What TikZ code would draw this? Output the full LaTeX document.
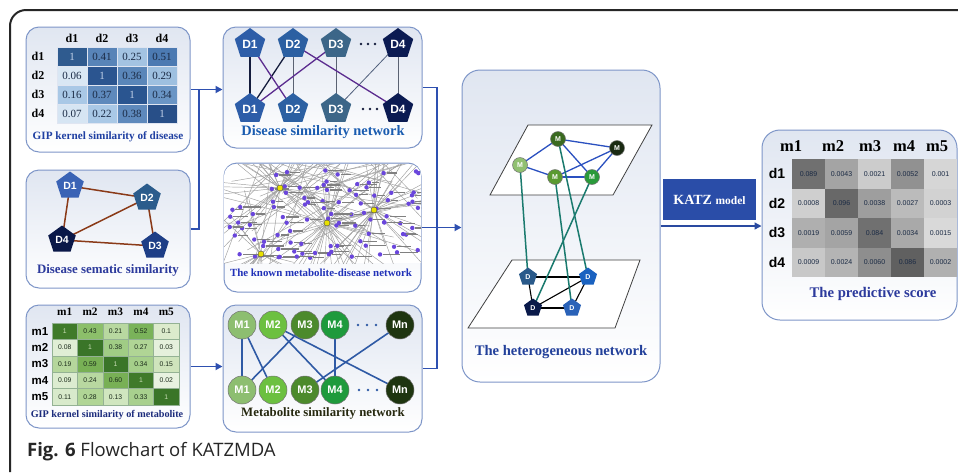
\documentclass[tikz,border=0pt]{standalone}
\usepackage{fontspec}
\setmainfont{Liberation Serif}
\newfontfamily\sansfont{Liberation Sans}
\newfontfamily\captionfont{Open Sans}
\usetikzlibrary{shapes.geometric,arrows.meta,calc}
\pgfdeclarelayer{front}
\pgfsetlayers{main,front}

\newcommand\fsz[1]{\fontsize{#1}{#1}\selectfont}

\definecolor{framec}{HTML}{7E96C8}
\definecolor{paneltop}{HTML}{E0E6F1}
\definecolor{flowc}{HTML}{2E50B0}
\definecolor{arrowdark}{HTML}{2A4AA0}
\definecolor{titleblue}{HTML}{1F3FA2}
\definecolor{titleviolet}{HTML}{2C3A9C}
\definecolor{titlenavy}{HTML}{1C2C7C}
\definecolor{titleknown}{HTML}{2030B8}
\definecolor{titleolive}{HTML}{26280F}
\definecolor{edgebrown}{HTML}{8A3A18}
\definecolor{edgepurple}{HTML}{5B2C8F}
\definecolor{edgenavy}{HTML}{141C3C}
\definecolor{edgegray}{HTML}{5A6272}
\definecolor{edgesteel}{HTML}{2F5AA5}
\definecolor{edgeblue}{HTML}{2A50C0}
\definecolor{edgeteal}{HTML}{1A7A6E}
\definecolor{katzblue}{HTML}{2A4DA8}
\definecolor{celltxt}{HTML}{1A2A44}
\definecolor{netdotc}{HTML}{6A46DC}
\definecolor{hubc}{HTML}{E8E000}

\begin{document}
\begin{tikzpicture}[x=1pt,y=-1pt,
  panel/.style={draw=framec, line width=1pt, rounded corners=13pt,
    top color=paneltop, bottom color=white, inner sep=0pt},
  flow/.style={draw=flowc, line width=1.8pt},
  tip/.style={-{Triangle[length=7pt,width=7pt]}},
  pent/.style={regular polygon, regular polygon sides=5, inner sep=0pt,
    minimum size=#1, text=white, font=\sansfont\bfseries},
  mball/.style={circle, inner sep=0pt, minimum size=#1, draw=black!55,
    line width=0.5pt, text=white, font=\sansfont\bfseries},
  ptitle/.style={font=\bfseries, inner sep=0pt},
  netline/.style={draw=gray!75, line width=0.45pt},
  netlabel/.style={fill=black!50},
  plane/.style={draw=black!75, line width=0.8pt, fill=white},
]
\useasboundingbox (0,0) rectangle (958,472);
\fill[white] (0,0) rectangle (958,472);

% figure frame
\draw[black!85, line width=2pt, rounded corners=16pt] (10,472) -- (10,10) -- (958,10);

% ---------------- panels ----------------
\node[panel, minimum width=164, minimum height=125] (gd) at (108,89.5) {};
\node[panel, minimum width=164, minimum height=118] (sem) at (108,229) {};
\node[panel, minimum width=164, minimum height=123] (gm) at (108,366.5) {};
\node[panel, minimum width=199, minimum height=121] (dsn) at (322.5,87.5) {};
\node[panel, minimum width=197, minimum height=129] (known) at (322.5,227.5) {};
\node[panel, minimum width=199, minimum height=127] (msn) at (322.5,368.5) {};
\node[panel, rounded corners=18pt, minimum width=198, minimum height=312] (het) at (561,226) {};
\node[panel, rounded corners=18pt, minimum width=195, minimum height=190] (pred) at (859.5,225) {};

% ---------------- GIP kernel similarity of disease ----------------
\foreach \lab [count=\r from 0] in {d1,d2,d3,d4}{
  \node[font=\bfseries\fsz{12}, inner sep=0] (gdr\r) at (38,56.5+19*\r) {\lab};
  \node[font=\bfseries\fsz{12}, inner sep=0] (gdc\r) at (72+30*\r,38) {\lab};
}
\foreach \rowvals [count=\r from 0] in {
  {1/2F5B8F/C0D0E8,0.41/5884B8/1A2A44,0.25/A3C3E2/1A2A44,0.51/4C7AB2/1A2A44},
  {0.06/D9E7F4/1A2A44,1/2B5590/C0D0E8,0.36/5A86B9/1A2A44,0.29/9EC0E0/1A2A44},
  {0.16/A9C8E6/1A2A44,0.37/5E89BC/1A2A44,1/2A5590/C0D0E8,0.34/6A95C5/1A2A44},
  {0.07/D6E5F3/1A2A44,0.22/A9C8E6/1A2A44,0.38/5E89BC/1A2A44,1/284F88/C0D0E8}}{
  \foreach \v/\c/\t [count=\k from 0] in \rowvals {
    \definecolor{cellfill}{HTML}{\c}
    \definecolor{celltext}{HTML}{\t}
    \node[draw=white!75!framec, line width=0.4pt, fill=cellfill, minimum width=30,
      minimum height=19, inner sep=0, text=celltext, font=\fsz{11}]
      (gd-\r-\k) at (72+30*\k,56.5+19*\r) {\v};
  }
}
\node[ptitle, text=titleblue, font=\bfseries\fsz{11.2}] (gdt) at (108,137) {GIP kernel similarity of disease};

% ---------------- Disease sematic similarity ----------------
\begin{pgfonlayer}{front}
\node[pent=29, fill={rgb,255:red,58;green,99;blue,181}, font=\sansfont\bfseries\fsz{10.5}] (s1) at (70,186) {D1};
\node[pent=29, fill={rgb,255:red,43;green,92;blue,140}, font=\sansfont\bfseries\fsz{10.5}] (s2) at (147,198) {D2};
\node[pent=29, fill={rgb,255:red,30;green,62;blue,134}, font=\sansfont\bfseries\fsz{10.5}] (s3) at (155,246) {D3};
\node[pent=29, fill={rgb,255:red,10;green,24;blue,72}, font=\sansfont\bfseries\fsz{10.5}] (s4) at (62,240) {D4};
\end{pgfonlayer}
\foreach \a/\b in {1/2,1/4,2/4,2/3,4/3}{
  \draw[edgebrown, line width=1.5pt] (s\a.center) -- (s\b.center);
}
\node[ptitle, text=titleviolet, font=\bfseries\fsz{12.9}] (semt) at (108,270) {Disease sematic similarity};

% ---------------- GIP kernel similarity of metabolite ----------------
\foreach \lab [count=\r from 0] in {m1,m2,m3,m4,m5}{
  \node[font=\sansfont\bfseries\fsz{11.5}, inner sep=0] (gmr\r) at (40,331.2+16.4*\r) {\lab};
  \node[font=\bfseries\fsz{11.3}, inner sep=0] (gmc\r) at (64.7+25.4*\r,312) {\lab};
}
\foreach \rowvals [count=\r from 0] in {
  {1/3F7A2A/C8DDB5,0.43/8CBF6A/1A2A1A,0.21/B8D8A0/1A2A1A,0.52/7AB35A/1A2A1A,0.1/DCEBCC/1A2A1A},
  {0.08/E0EED5/1A2A1A,1/3A7528/C8DDB5,0.38/A0CC85/1A2A1A,0.27/B0D595/1A2A1A,0.03/E5F0DC/1A2A1A},
  {0.19/B5D69C/1A2A1A,0.59/78B055/1A2A1A,1/3A7528/C8DDB5,0.34/A5CF8A/1A2A1A,0.15/CFE4BC/1A2A1A},
  {0.09/DCECD0/1A2A1A,0.24/B8D8A0/1A2A1A,0.60/78B055/1A2A1A,1/3F7A2A/C8DDB5,0.02/E8F2E0/1A2A1A},
  {0.11/D8EACB/1A2A1A,0.28/B0D595/1A2A1A,0.13/D0E6BF/1A2A1A,0.33/A8D08E/1A2A1A,1/3A7528/C8DDB5}}{
  \foreach \v/\c/\t [count=\k from 0] in \rowvals {
    \definecolor{cellfill}{HTML}{\c}
    \definecolor{celltext}{HTML}{\t}
    \node[draw=white!70!green!40!gray, line width=0.3pt, fill=cellfill, minimum width=25.4,
      minimum height=16.4, inner sep=0, text=celltext, font=\sansfont\fsz{6.8}]
      (gm-\r-\k) at (64.7+25.4*\k,331.2+16.4*\r) {\v};
  }
}
\node[ptitle, text=titlenavy, font=\bfseries\fsz{10.2}] (gmt) at (107,415) {GIP kernel similarity of metabolite};

% ---------------- Disease similarity network ----------------
\begin{pgfonlayer}{front}
\foreach \nm/\xx/\col [count=\i] in {D1/250/2D5DA8,D2/293/2C60A2,D3/336/3C6688,D4/398/0B1B52}{
  \definecolor{pc}{HTML}{\col}
  \node[pent=32, fill=pc, font=\sansfont\bfseries\fsz{12}] (t\i) at (\xx,44) {\nm};
  \node[pent=32, fill=pc, font=\sansfont\bfseries\fsz{12}] (b\i) at (\xx,109) {\nm};
}
\end{pgfonlayer}
\foreach \dx in {361,368,375}{\fill[edgenavy] (\dx,44) circle (1.3); \fill[edgenavy] (\dx+2,109) circle (1.3);}
\draw[edgegray, line width=0.7pt] (t2.center) -- (b2.center);
\draw[edgegray, line width=0.7pt] (t3.center) -- (b3.center);
\draw[edgegray!80!edgesteel, line width=0.8pt] (t4.center) -- (b3.center);
\draw[edgegray, line width=0.7pt] (t4.center) -- (b4.center);
\draw[edgenavy, line width=1.3pt] (t1.center) -- (b1.center);
\draw[edgenavy, line width=1.3pt] (t2.center) -- (b1.center);
\draw[edgepurple, line width=1.3pt] (t1.center) -- (b2.center);
\draw[edgepurple, line width=1.3pt] (t3.center) -- (b1.center);
\draw[edgepurple, line width=1.3pt] (t2.center) -- (b4.center);
\node[ptitle, text=titleblue!85!cyan, font=\bfseries\fsz{14.4}] (dsnt) at (323,132) {Disease similarity network};

% ---------------- The known metabolite-disease network ----------------
\begin{scope}
  \clip[rounded corners=12pt] (224,164) rectangle (421,291);
  \clip (220,160) rectangle (425,263);
  \fill[white] (220,160) rectangle (425,263);
  \pgfmathsetseed{12}
  \foreach \hx/\hy/\n in {280/188/34,327/223/42,374/210/34,261/254/22}{
    \foreach \k in {1,...,\n}{
      \pgfmathsetmacro\ang{rnd*360}
      \pgfmathsetmacro\len{20+rnd*110}
      \draw[netline] (\hx,\hy) -- ++(\ang:\len);
    }
  }
  \foreach \k in {1,...,32}{
    \pgfmathsetmacro\ax{220+rnd*205}
    \pgfmathsetmacro\bx{220+rnd*205}
    \pgfmathsetmacro\by{175+rnd*90}
    \draw[netline] (\ax,160) -- (\bx,\by);
  }
  \foreach \k in {1,...,95}{
    \pgfmathsetmacro\px{229+rnd*190}
    \pgfmathsetmacro\py{168+rnd*92}
    \pgfmathsetmacro\lw{6+rnd*12}
    \fill[netlabel] (\px+3,\py-0.6) rectangle ++(\lw,1.2);
    \fill[netdotc] (\px,\py) circle (2.2);
  }
  \foreach \hx/\hy in {280/188,327/223,374/210,261/254}{
    \filldraw[fill=hubc, draw=black!70, line width=0.4pt] (\hx,\hy) circle (3);
  }
\end{scope}
\node[ptitle, text=titleknown, font=\bfseries\fsz{10.9}] (knownt) at (321,273) {The known metabolite-disease network};

% ---------------- Metabolite similarity network ----------------
\begin{pgfonlayer}{front}
\foreach \nm/\xx/\col [count=\i] in {M1/242/8DBE70,M2/273/6CC040,M3/305/4C8A2C,M4/335/1E9A3C,Mn/400/1E3510}{
  \definecolor{mc}{HTML}{\col}
  \node[mball=28, fill=mc, font=\sansfont\bfseries\fsz{11}] (mt\i) at (\xx,325) {\nm};
  \node[mball=28, fill=mc, font=\sansfont\bfseries\fsz{11}] (mb\i) at (\xx,390) {\nm};
}
\end{pgfonlayer}
\foreach \dx in {358,367,376}{\fill[edgesteel] (\dx,325) circle (1.4); \fill[edgesteel] (\dx+1,390) circle (1.4);}
\foreach \a/\b in {1/1,1/2,3/1,2/4,2/5,4/4,5/3}{
  \draw[edgesteel, line width=1.6pt] (mt\a.center) -- (mb\b.center);
}
\node[ptitle, text=titleolive, font=\bfseries\fsz{12.8}] (msnt) at (323,413) {Metabolite similarity network};

% ---------------- The heterogeneous network ----------------
\draw[plane] (528,125) -- (652,125) -- (613,195) -- (490,195) -- cycle;
\draw[plane] (512,260) -- (640,260) -- (615,328) -- (468,328) -- cycle;
\begin{pgfonlayer}{front}
\node[mball=15, fill={rgb,255:red,58;green,106;blue,32}, font=\sansfont\bfseries\fsz{7}] (hm1) at (558,139) {M};
\node[mball=15, fill={rgb,255:red,26;green,42;blue,18}, font=\sansfont\bfseries\fsz{7}] (hm2) at (617,148) {M};
\node[mball=15, fill={rgb,255:red,144;green,192;blue,112}, font=\sansfont\bfseries\fsz{7}] (hm3) at (520,165) {M};
\node[mball=15, fill={rgb,255:red,90;green,154;blue,48}, font=\sansfont\bfseries\fsz{7}] (hm4) at (555,177) {M};
\node[mball=15, fill={rgb,255:red,42;green,154;blue,58}, font=\sansfont\bfseries\fsz{7}] (hm5) at (592,177) {M};
\node[pent=19, fill={rgb,255:red,42;green,90;blue,138}, font=\sansfont\bfseries\fsz{7}] (hda) at (528,277) {D};
\node[pent=19, fill={rgb,255:red,26;green,98;blue,192}, font=\sansfont\bfseries\fsz{7}] (hdb) at (588,277) {D};
\node[pent=19, fill={rgb,255:red,10;green,26;blue,74}, font=\sansfont\bfseries\fsz{7}] (hdc) at (533,308) {D};
\node[pent=19, fill={rgb,255:red,42;green,98;blue,184}, font=\sansfont\bfseries\fsz{7}] (hdd) at (572,308) {D};
\end{pgfonlayer}
\foreach \a/\b in {1/2,1/3,1/5,3/4,4/5,4/2,5/2}{
  \draw[edgeblue, line width=1.3pt] (hm\a.center) -- (hm\b.center);
}
\foreach \a/\b in {a/b,a/c,c/d,c/b,d/b}{
  \draw[black, line width=1.1pt] (hd\a.center) -- (hd\b.center);
}
\draw[edgeteal, line width=1.5pt] (hm3.center) -- (hda.center);
\draw[edgeteal, line width=1.5pt] (hm4.center) -- (hdd.center);
\draw[edgeteal, line width=1.5pt] (hm1.center) -- (hdb.center);
\draw[edgeteal, line width=1.5pt] (hm5.center) -- (hdc.center);
\node[ptitle, text=edgeblue!80!black, font=\bfseries\fsz{14.6}] (hett) at (561,352) {The heterogeneous network};

% ---------------- KATZ model and predictive score ----------------
\node[fill=katzblue, minimum width=93, minimum height=41, inner sep=0, text=white, font=\bfseries]
  (katz) at (709.5,199.5) {\fsz{14}KATZ \fsz{11.5}model};

\foreach \lab/\xx [count=\i from 0] in {m1/791,m2/833,m3/870,m4/904,m5/937}{
  \node[font=\bfseries\fsz{16.5}, inner sep=0] (pc\i) at (\xx,146) {\lab};
}
\foreach \lab [count=\r from 0] in {d1,d2,d3,d4}{
  \node[font=\sansfont\bfseries\fsz{14}, inner sep=0] (pr\r) at (777,173.75+29.5*\r) {\lab};
}
\foreach \rowvals [count=\r from 0] in {
  {0.089/707070,0.0043/A4A4A4,0.0021/CCCCCC,0.0052/919191,0.001/D6D6D6},
  {0.0008/CFCFCF,0.096/686868,0.0038/9E9E9E,0.0027/BBBBBB,0.0003/D2D2D2},
  {0.0019/AFAFAF,0.0059/A4A4A4,0.084/707070,0.0034/A9A9A9,0.0015/D9D9D9},
  {0.0009/C8C8C8,0.0024/B4B4B4,0.0060/8E8E8E,0.086/606060,0.0002/B0B0B0}}{
  \foreach \v/\c [count=\k from 0] in \rowvals {
    \definecolor{cellfill}{HTML}{\c}
    \node[fill=cellfill, minimum width=33, minimum height=29.5, inner sep=0,
      text=celltxt, font=\sansfont\fsz{7}] (p-\r-\k) at (808.5+33*\k,173.75+29.5*\r) {\v};
  }
}
\node[ptitle, text=titleviolet, font=\bfseries\fsz{14.7}] (predt) at (873,294) {The predictive score};

% ---------------- flow connectors ----------------
\coordinate (jl) at (199,0);
\coordinate (jr) at (437,0);
\draw[flow] (sem.east) -| (jl |- gd.east);
\draw[flow, tip] (gd.east) -- (gd.east -| dsn.west);
\draw[flow, tip] (gm.east) -- (gm.east -| msn.west);
\draw[flow] (dsn.east) -| (jr |- msn.east) -- (msn.east);
\draw[flow, tip] (known.east) -- (known.east -| het.west);
\draw[draw=arrowdark, line width=1.4pt, tip] (het.east) -- (het.east -| pred.west);

% ---------------- caption ----------------
\node[anchor=base west, inner sep=0, text=black!85, font=\captionfont\fsz{18.5}] (cap) at (27,456)
  {\textbf{Fig. 6} Flowchart of KATZMDA};
\end{tikzpicture}
\end{document}
